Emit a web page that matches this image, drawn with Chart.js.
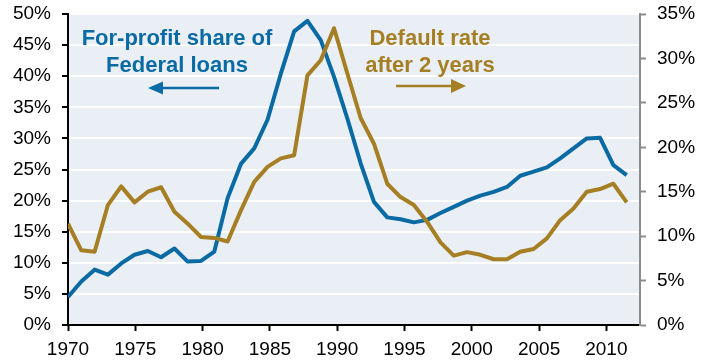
<!DOCTYPE html>
<html>
<head>
<meta charset="utf-8">
<script src="https://cdn.jsdelivr.net/npm/chart.js@4.4.1/dist/chart.umd.min.js"></script>
<style>
  html, body { margin: 0; padding: 0; background: #ffffff; }
  #wrap { width: 710px; height: 360px; }
</style>
</head>
<body>
<div id="wrap"><canvas id="c" width="710" height="360"></canvas></div>
<script>
const years = [1970,1971,1972,1973,1974,1975,1976,1977,1978,1979,
               1980,1981,1982,1983,1984,1985,1986,1987,1988,1989,
               1990,1991,1992,1993,1994,1995,1996,1997,1998,1999,
               2000,2001,2002,2003,2004,2005,2006,2007,2008,2009,
               2010,2011,2012];
// For-profit share of Federal loans (left axis, %)
const forProfitShare = [4.5,7.0,8.9,8.1,9.9,11.3,11.9,10.9,12.3,10.2,
                        10.3,11.8,20.4,25.9,28.4,33.0,40.4,47.2,48.9,45.8,
                        39.9,33.2,26.0,19.8,17.3,17.0,16.5,16.9,18.0,19.0,
                        20.0,20.8,21.4,22.2,24.0,24.65,25.35,26.8,28.4,30.0,
                        30.1,25.7,24.1];
// Default rate after 2 years (right axis, %)
const defaultRate = [11.4,8.4,8.25,13.5,15.6,13.8,15.0,15.5,12.75,11.4,
                     9.9,9.8,9.4,12.9,16.1,17.8,18.75,19.1,28.1,29.8,
                     33.4,28.3,23.3,20.4,15.9,14.4,13.5,11.6,9.3,7.8,
                     8.2,7.9,7.4,7.4,8.25,8.55,9.75,11.8,13.1,15.0,
                     15.3,15.9,13.8];
const xTickYears = [1970,1975,1980,1985,1990,1995,2000,2005,2010];
const leftTicks = [0,5,10,15,20,25,30,35,40,45,50];
const rightTicks = [0,5,10,15,20,25,30,35];

const BLUE = '#0a6aa3';
const GOLD = '#a67f24';
const FONT = '"Liberation Sans", Arial, sans-serif';

const bgPlugin = {
  id: 'plotBg',
  beforeDraw(chart) {
    const {ctx, chartArea: a} = chart;
    ctx.save();
    ctx.fillStyle = '#e9eff4';
    ctx.fillRect(a.left, a.top, a.right - a.left, a.bottom - a.top);
    ctx.restore();
  }
};

function arrow(ctx, x1, x2, y, color, headLen, headHalf) {
  ctx.save();
  ctx.strokeStyle = color;
  ctx.fillStyle = color;
  ctx.lineWidth = 2.5;
  const dir = Math.sign(x2 - x1);
  ctx.beginPath();
  ctx.moveTo(x1, y);
  ctx.lineTo(x2 - dir * headLen * 0.8, y);
  ctx.stroke();
  ctx.beginPath();
  ctx.moveTo(x2, y);
  ctx.lineTo(x2 - dir * headLen, y - headHalf);
  ctx.lineTo(x2 - dir * headLen, y + headHalf);
  ctx.closePath();
  ctx.fill();
  ctx.restore();
}

const notePlugin = {
  id: 'notes',
  afterDatasetsDraw(chart) {
    const ctx = chart.ctx;
    ctx.save();
    ctx.font = 'bold 22px ' + FONT;
    ctx.textAlign = 'center';
    ctx.textBaseline = 'alphabetic';
    ctx.fillStyle = BLUE;
    ctx.fillText('For-profit share of', 177, 45);
    ctx.fillText('Federal loans', 177, 71.5);
    ctx.fillStyle = GOLD;
    ctx.fillText('Default rate', 430, 45);
    ctx.fillText('after 2 years', 430, 71.5);
    ctx.restore();
    arrow(ctx, 219, 148, 88, BLUE, 15, 6.5);
    arrow(ctx, 396, 466, 86, GOLD, 15, 7);
  }
};

const pctFmt = v => v + '%';
const fixY = w => s => { s.width = w; s.paddingTop = 0; s.paddingBottom = 0; };

new Chart(document.getElementById('c'), {
  type: 'line',
  data: {
    datasets: [
      {
        label: 'Default rate after 2 years',
        data: years.map((y, i) => ({x: y, y: defaultRate[i]})),
        borderColor: GOLD,
        borderWidth: 4,
        pointRadius: 0,
        tension: 0,
        borderJoinStyle: 'round',
        xAxisID: 'xData',
        yAxisID: 'yRight'
      },
      {
        label: 'For-profit share of Federal loans',
        data: years.map((y, i) => ({x: y, y: forProfitShare[i]})),
        borderColor: BLUE,
        borderWidth: 4,
        pointRadius: 0,
        tension: 0,
        borderJoinStyle: 'round',
        xAxisID: 'xData',
        yAxisID: 'yLeft'
      }
    ]
  },
  options: {
    responsive: false,
    devicePixelRatio: 1,
    animation: false,
    layout: { padding: { top: 14, left: 0, right: 0, bottom: 0 } },
    plugins: { legend: { display: false }, tooltip: { enabled: false } },
    scales: {
      xData: {
        type: 'linear',
        display: false,
        min: 1970,
        max: 2013
      },
      x: {
        type: 'linear',
        position: 'bottom',
        min: 1970,
        max: 2012.5,
        afterBuildTicks: s => { s.ticks = xTickYears.map(v => ({value: v})); },
        afterFit: s => { s.height = 35; s.paddingLeft = 0; s.paddingRight = 0; },
        ticks: {
          callback: v => String(v),
          color: '#000',
          font: { family: FONT, size: 19 },
          padding: 7,
          maxRotation: 0,
          autoSkip: false
        },
        grid: {
          drawOnChartArea: false,
          drawTicks: true,
          tickLength: 6,
          tickColor: '#000',
          tickWidth: 2
        },
        border: { color: '#000', width: 2 }
      },
      yLeft: {
        type: 'linear',
        position: 'left',
        min: 0,
        max: 50,
        afterBuildTicks: s => { s.ticks = leftTicks.map(v => ({value: v})); },
        afterFit: fixY(68),
        ticks: {
          callback: pctFmt,
          color: '#000',
          font: { family: FONT, size: 19 },
          padding: 11
        },
        grid: {
          color: '#ffffff',
          lineWidth: 2,
          drawTicks: true,
          tickLength: 6,
          tickColor: '#000',
          tickWidth: 2
        },
        border: { color: '#000', width: 2 }
      },
      yRight: {
        type: 'linear',
        position: 'right',
        min: 0,
        max: 35,
        afterBuildTicks: s => { s.ticks = rightTicks.map(v => ({value: v})); },
        afterFit: fixY(70),
        ticks: {
          callback: pctFmt,
          color: '#000',
          font: { family: FONT, size: 19 },
          padding: 11
        },
        grid: {
          drawOnChartArea: false,
          drawTicks: true,
          tickLength: 6,
          tickColor: '#8c8c8c',
          tickWidth: 2
        },
        border: { color: '#8c8c8c', width: 2 }
      }
    }
  },
  plugins: [bgPlugin, notePlugin]
});
</script>
</body>
</html>
